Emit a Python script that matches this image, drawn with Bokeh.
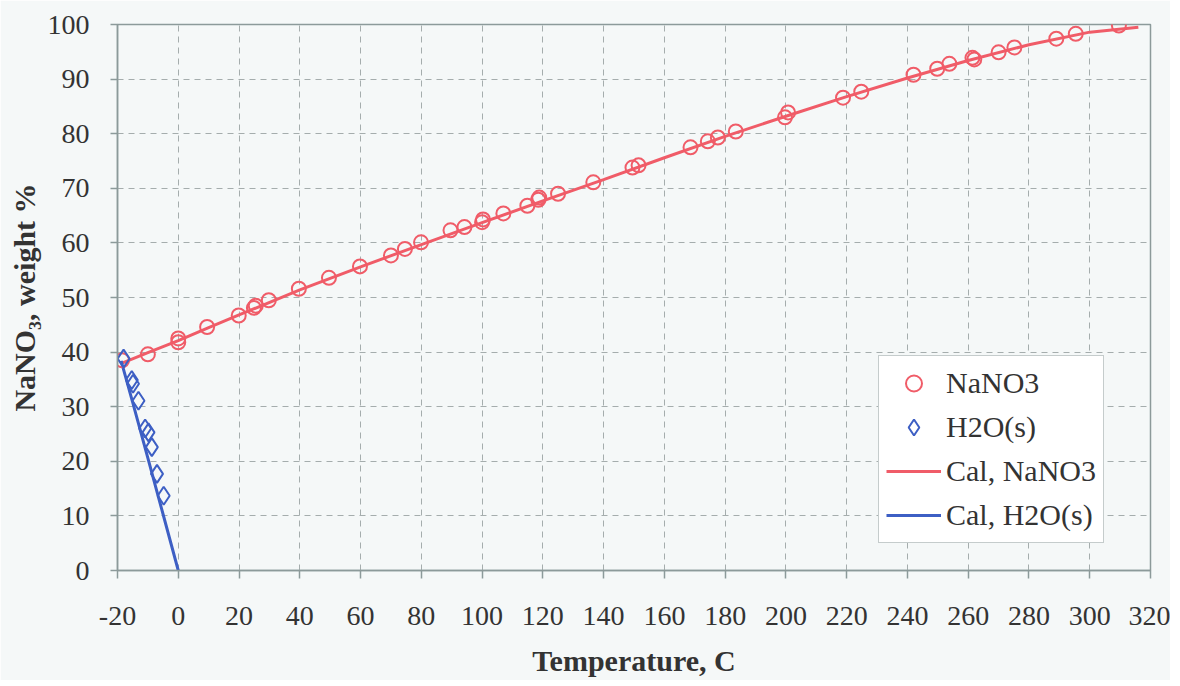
from bokeh.plotting import figure
from bokeh.models import Range1d, FixedTicker, Legend, LegendItem
from bokeh.embed import file_html
from bokeh.resources import INLINE

# ---- data ----
nano3_T = [-18.5, -10, 0, 0, 9.5, 19.9, 24.9, 25.5, 29.8, 39.7, 49.6, 59.8, 70, 74.6, 79.9,
           89.6, 94.2, 100, 100.3, 107, 114.9, 118.5, 118.8, 125, 136.6, 149.5, 151.5,
           168.6, 174.3, 177.6, 183.5, 199.7, 200.7, 218.8, 224.8, 242, 249.8, 253.8,
           261.4, 262, 270, 275.2, 289, 295.4, 309.6]
nano3_w = [38.5, 39.6, 42.5, 41.8, 44.6, 46.7, 48.1, 48.5, 49.5, 51.6, 53.6, 55.7, 57.7, 58.9, 60.1,
           62.3, 62.9, 63.8, 64.3, 65.4, 66.8, 67.9, 68.3, 69.0, 71.1, 73.8, 74.2,
           77.5, 78.6, 79.3, 80.4, 83.0, 83.9, 86.6, 87.7, 90.8, 91.9, 92.8,
           93.9, 93.6, 94.9, 95.8, 97.4, 98.3, 99.8]

h2o_T = [-18.0, -15.3, -14.9, -13.1, -10.9, -9.8, -8.7, -7.0, -4.8]
h2o_w = [38.8, 34.9, 34.2, 31.1, 26.0, 25.3, 22.6, 17.7, 13.7]

cal_nano3_T = [-18.5, -10, 0, 10, 20, 40, 60, 80, 100, 120, 140, 160, 180, 200, 220, 240, 260, 280, 300, 316]
cal_nano3_w = [38.0, 39.9, 42.1, 44.5, 46.8, 51.4, 55.6, 59.7, 63.7, 67.7, 71.6, 75.6, 79.5, 83.2,
               86.8, 90.2, 93.4, 96.3, 98.6, 99.5]

cal_h2o_T = [-18.8, -15, -10, -5, 0]
cal_h2o_w = [38.4, 30.8, 20.6, 10.3, 0.0]

x_ticks = list(range(-20, 321, 20))
y_ticks = list(range(0, 101, 10))

RED = "#f05c68"
BLUE = "#3d5fc4"
BG = "#f5f8f8"
SERIF = "Liberation Serif"
AXC = "#8c9a9a"

p = figure(frame_width=1033, frame_height=546, output_backend="svg", toolbar_location=None,
           x_range=Range1d(-20, 320), y_range=Range1d(0, 100),
           min_border_left=117, min_border_right=20, min_border_top=24, min_border_bottom=110)
p.background_fill_color = BG
p.border_fill_color = BG
p.outline_line_color = AXC
p.outline_line_width = 1.5

for ax in (p.xaxis[0], p.yaxis[0]):
    ax.axis_line_color = AXC
    ax.axis_line_width = 1.5
    ax.major_tick_line_color = AXC
    ax.major_tick_line_width = 1.5
    ax.minor_tick_line_color = None
    ax.major_tick_in = 0
    ax.major_label_text_font = SERIF
    ax.major_label_text_font_size = "28px"
    ax.major_label_text_color = "#333333"
    ax.axis_label_text_font = SERIF
    ax.axis_label_text_font_style = "bold"
    ax.axis_label_text_font_size = "30px"
    ax.axis_label_text_color = "#333333"

p.xaxis.ticker = FixedTicker(ticks=x_ticks)
p.yaxis.ticker = FixedTicker(ticks=y_ticks)
p.xaxis.major_label_overrides = {t: str(t) for t in x_ticks}
p.yaxis.major_label_overrides = {t: str(t) for t in y_ticks}
p.xaxis.major_tick_out = 8
p.yaxis.major_tick_out = 7
p.xaxis.major_label_standoff = 28
p.yaxis.major_label_standoff = 21
p.xaxis.axis_label = "Temperature, C"
p.yaxis.axis_label = "NaNO\u2083, weight %"
p.xaxis.axis_label_standoff = 16
p.yaxis.axis_label_standoff = 4

for g in (p.xgrid[0], p.ygrid[0]):
    g.grid_line_color = "#a5adad"
    g.grid_line_dash = "6 5"
    g.grid_line_width = 1

l1 = p.line(cal_nano3_T, cal_nano3_w, line_color=RED, line_width=3)
l2 = p.line(cal_h2o_T, cal_h2o_w, line_color=BLUE, line_width=3)
c1 = p.scatter(nano3_T, nano3_w, marker="circle", size=14, line_color=RED, line_width=2,
               fill_alpha=0)
d1 = p.scatter(h2o_T, h2o_w, marker="diamond", size=18, line_color=BLUE,
               line_width=2, fill_alpha=0)

legend = Legend(items=[
    LegendItem(label="NaNO3", renderers=[c1]),
    LegendItem(label="H2O(s)", renderers=[d1]),
    LegendItem(label="Cal, NaNO3", renderers=[l1]),
    LegendItem(label="Cal, H2O(s)", renderers=[l2]),
], location=(761, 27))
legend.label_text_font = SERIF
legend.label_text_font_size = "30px"
legend.label_text_color = "#333333"
legend.glyph_width = 55
legend.glyph_height = 40
legend.label_height = 40
legend.spacing = 4
legend.padding = 7
legend.margin = 0
legend.label_standoff = 5
legend.border_line_color = AXC
legend.border_line_width = 1.5
legend.background_fill_color = "white"
legend.background_fill_alpha = 1
p.add_layout(legend, "center")

open("out.html", "w").write(file_html(p, INLINE))
